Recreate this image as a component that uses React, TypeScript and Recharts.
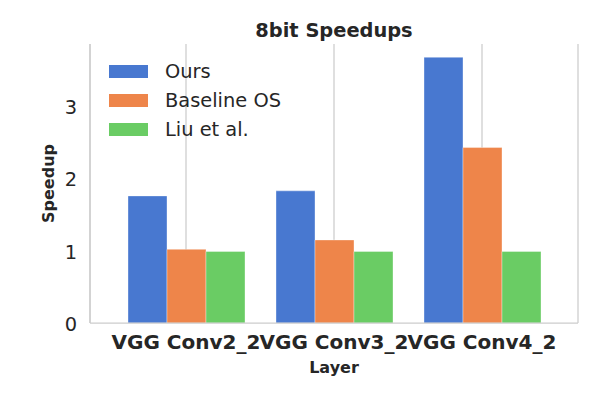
import { BarChart, Bar, XAxis, YAxis, CartesianGrid, Legend } from 'recharts'

const layers = ['VGG Conv2_2', 'VGG Conv3_2', 'VGG Conv4_2']
const ours = [1.76, 1.83, 3.68]
const baselineOS = [1.02, 1.15, 2.43]
const liu = [0.99, 0.99, 0.99]
const yTicks = [0, 1, 2, 3]

const SERIES = [
  { key: 'ours', name: 'Ours', color: '#4878d0' },
  { key: 'baseline', name: 'Baseline OS', color: '#ee854a' },
  { key: 'liu', name: 'Liu et al.', color: '#6acc64' },
]

const FONT = '"DejaVu Sans", sans-serif'
const INK = '#262626'
const SPINE = '#cccccc'

const data = layers.map((layer, i) => ({
  layer,
  ours: ours[i],
  baseline: baselineOS[i],
  liu: liu[i],
}))

const LegendBox = () => (
  <div style={{ fontFamily: FONT }}>
    {SERIES.map(s => (
      <div key={s.key} style={{ display: 'flex', alignItems: 'center', height: 29 }}>
        <div style={{ width: 39, height: 13, background: s.color }} />
        <span style={{ marginLeft: 17, fontSize: 19.4, color: INK }}>{s.name}</span>
      </div>
    ))}
  </div>
)

const SpeedupLabel = ({ viewBox }: any) => {
  const cy = viewBox.y + viewBox.height / 2
  return (
    <text x={54} y={cy} transform={`rotate(-90, 54, ${cy})`} textAnchor="middle"
      fontFamily={FONT} fontSize={16} fontWeight="bold" fill={INK}>
      Speedup
    </text>
  )
}

export default function App() {
  return (
    <div style={{ position: 'absolute', left: 0, top: 0, width: 600, height: 400, background: '#fff' }}>
      <div style={{
        position: 'absolute', left: 90, top: 21, width: 488, textAlign: 'center',
        fontFamily: FONT, fontSize: 19.4, lineHeight: '19.4px', fontWeight: 'bold', color: INK,
      }}>
        8bit Speedups
      </div>
      <BarChart width={600} height={400} data={data}
        margin={{ top: 44, right: 22, left: 0, bottom: 0 }}
        barCategoryGap={16} barGap={0}>
        <CartesianGrid horizontal={false} stroke={SPINE} strokeWidth={1.25} />
        <XAxis dataKey="layer" height={77} padding={{ left: 22, right: 22 }}
          axisLine={{ stroke: SPINE, strokeWidth: 1.25 }} tickLine={false}
          tickSize={6} tickMargin={6}
          tick={{ fontSize: 20, fontWeight: 'bold', fill: INK, fontFamily: FONT }}
          interval={0}
          label={{ value: 'Layer', position: 'insideBottom', offset: 27, fontSize: 16, fontWeight: 'bold', fill: INK, fontFamily: FONT }} />
        <XAxis xAxisId="top" orientation="top" dataKey="layer" height={0} tick={false} tickLine={false}
          padding={{ left: 22, right: 22 }} axisLine={{ stroke: SPINE, strokeWidth: 1.25 }} />
        <YAxis width={90} domain={[0, 3.864]} ticks={yTicks} allowDataOverflow
          axisLine={{ stroke: SPINE, strokeWidth: 1.25 }} tickLine={false}
          tickSize={6} tickMargin={7}
          tick={{ fontSize: 19.4, fill: INK, fontFamily: FONT, dy: 1 }}
          label={<SpeedupLabel />} />
        <YAxis yAxisId="right" orientation="right" width={0} domain={[0, 3.864]} tick={false} tickLine={false}
          axisLine={{ stroke: SPINE, strokeWidth: 1.25 }} />
        <Legend layout="vertical" verticalAlign="middle" align="center"
          wrapperStyle={{ left: 109, top: 57, width: 'auto' }} content={<LegendBox />} />
        {SERIES.map(s => (
          <Bar key={s.key} dataKey={s.key} name={s.name} fill={s.color}
            stroke="#ffffff" strokeOpacity={0.35} strokeWidth={1}
            isAnimationActive={false} />
        ))}
      </BarChart>
    </div>
  )
}
